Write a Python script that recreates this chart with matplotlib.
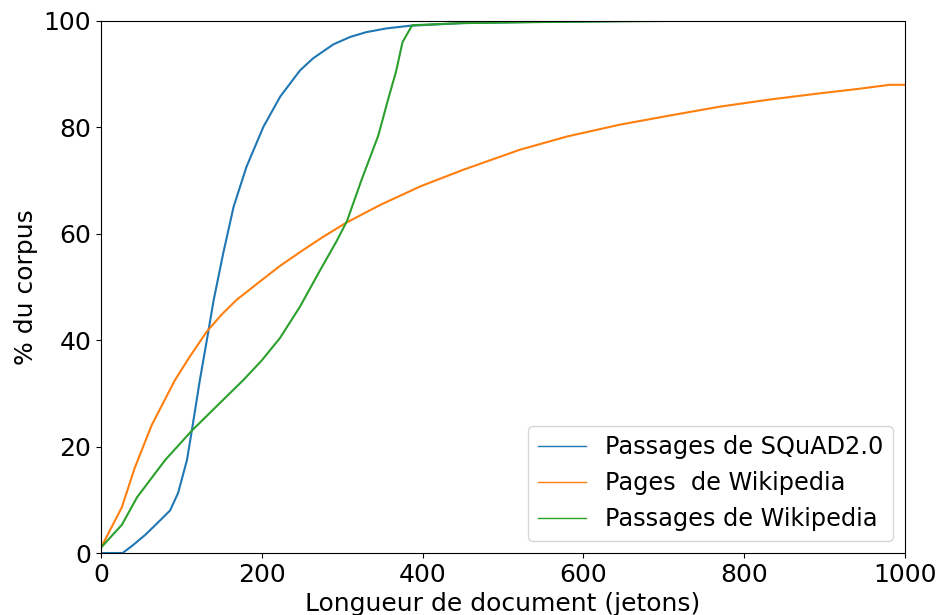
import matplotlib
matplotlib.use("Agg")
import matplotlib.pyplot as plt

squad_x = [0, 27, 40, 55, 70, 86, 96, 107, 113, 123, 133.5, 140, 152, 165, 181, 202, 223, 247.5, 264, 289, 310, 330, 355, 384, 450, 550, 650, 1000]
squad_y = [0, 0, 1.5, 3.4, 5.6, 8, 11.3, 17.5, 23, 32.5, 41.6, 47.4, 56.3, 65.1, 72.6, 80.1, 85.8, 90.7, 93.0, 95.6, 97.0, 97.9, 98.6, 99.1, 99.6, 99.85, 100, 100]

pages_x = [0, 26, 42, 63, 92, 110, 131.5, 150, 168.8, 200, 223, 250, 275, 304, 347, 397, 450, 521, 580, 645, 710, 770, 830, 894, 940, 981, 1000]
pages_y = [1, 8.6, 16, 24, 32.5, 36.8, 41.6, 44.8, 47.6, 51.3, 54, 56.8, 59.3, 62, 65.4, 68.9, 72, 75.8, 78.3, 80.5, 82.3, 83.9, 85.2, 86.4, 87.2, 88, 88]

wpass_x = [0, 26, 45, 80, 113, 150, 177, 200, 222.6, 247.5, 272, 293, 306, 324, 345, 357, 367, 375, 387, 450, 550, 700, 1000]
wpass_y = [1, 5.3, 10.5, 17.5, 23, 28.5, 32.5, 36.2, 40.4, 46.3, 53.0, 58.6, 62.4, 70.1, 78.5, 85.2, 90.5, 96, 99.2, 99.6, 99.8, 100, 100]

labels = ["Passages de SQuAD2.0", "Pages  de Wikipedia", "Passages de Wikipedia"]

fig = plt.figure(figsize=(9.4, 6.15), dpi=100)
ax = fig.add_axes([0.1074, 0.1008, 0.8554, 0.8651])
ax.plot(squad_x, squad_y, color="#1f77b4", lw=1.5, label=labels[0])
ax.plot(pages_x, pages_y, color="#ff7f0e", lw=1.5, label=labels[1])
ax.plot(wpass_x, wpass_y, color="#2ca02c", lw=1.5, label=labels[2])
ax.set_xlim(0, 1000)
ax.set_ylim(0, 100)
ax.set_xticks([0, 200, 400, 600, 800, 1000])
ax.set_yticks([0, 20, 40, 60, 80, 100])
ax.tick_params(labelsize=18)
ax.set_xlabel("Longueur de document (jetons)", fontsize=18)
ax.set_ylabel("% du corpus", fontsize=18)
leg = ax.legend(loc="lower right", fontsize=17.3)
for l in leg.get_lines():
    l.set_linewidth(1.0)
fig.savefig("out.png", dpi=100)
